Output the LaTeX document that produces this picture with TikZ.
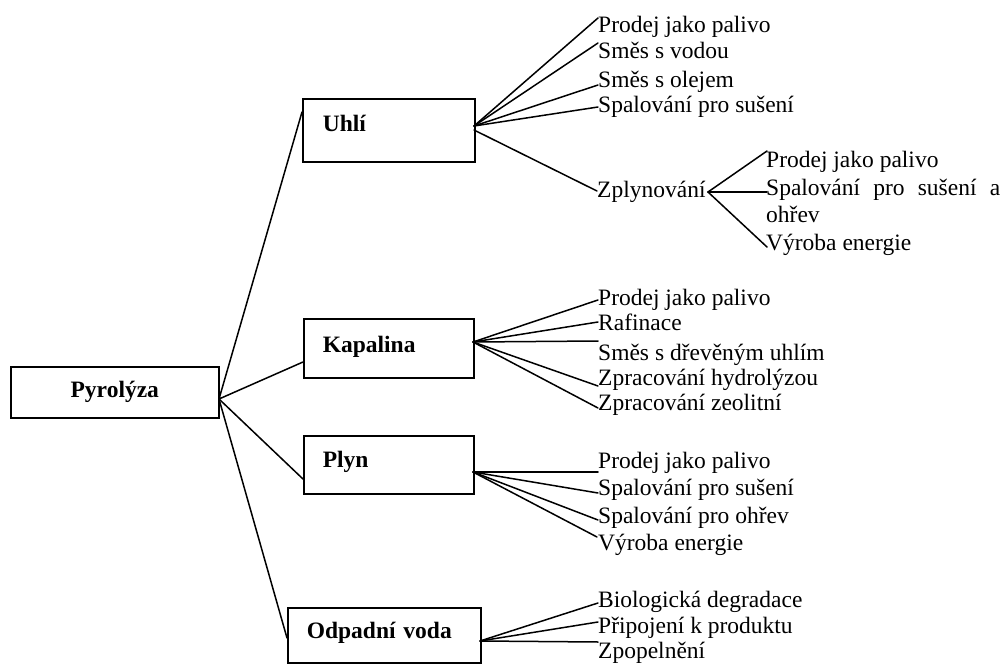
\documentclass[tikz,border=0pt]{standalone}
\usepackage{fontspec}
\setmainfont{Liberation Serif}
\begin{document}
\begin{tikzpicture}[x=1pt,y=-1pt,
  every node/.style={font=\fontsize{23.5}{27}\selectfont, inner sep=0pt},
  box/.style={draw, line width=1.6pt, rectangle, anchor=north west, inner ysep=0pt,
    font=\fontsize{23.5}{27}\selectfont\bfseries},
  leaf/.style={anchor=base west},
  conn/.style={line width=1.5pt, line join=round, line cap=round}]
\useasboundingbox (0,0) rectangle (1005,664);

% boxes
\node[box, align=center, inner xsep=10pt, text width=188pt, text height=31pt, text depth=20pt] (pyr) at (10,366) {Pyrolýza};
\node[box, align=left, inner xsep=20pt, text width=132pt, text height=33pt, text depth=30pt] (uhli) at (302,98) {Uhlí};
\node[box, align=left, inner xsep=19pt, text width=132pt, text height=34pt, text depth=25pt] (kap) at (303,318) {Kapalina};
\node[box, align=left, inner xsep=19pt, text width=132pt, text height=32pt, text depth=26pt] (plyn) at (303,435) {Plyn};
\node[box, align=left, inner xsep=19pt, text width=155pt, text height=31pt, text depth=24pt] (odp) at (287,607) {Odpadní voda};

% leaves: Uhli
\node[leaf] (u1) at (598,32) {Prodej jako palivo};
\node[leaf] (u2) at (598,58) {Směs s vodou};
\node[leaf] (u3) at (598,87) {Směs s olejem};
\node[leaf] (u4) at (598,112) {Spalování pro sušení};
\node[leaf] (u5) at (597,197) {Zplynování};
% leaves: Zplynovani
\node[leaf] (z1) at (766,167) {Prodej jako palivo};
\node[leaf] (z2) at (766,195) {\makebox[234pt][s]{Spalování pro sušení a}};
\node[leaf] (z2b) at (766,222) {ohřev};
\node[leaf] (z3) at (766,250) {Výroba energie};
% leaves: Kapalina
\node[leaf] (k1) at (598,305) {Prodej jako palivo};
\node[leaf] (k2) at (598,330) {Rafinace};
\node[leaf] (k3) at (598,360) {Směs s dřevěným uhlím};
\node[leaf] (k4) at (598,385) {Zpracování hydrolýzou};
\node[leaf] (k5) at (598,410) {Zpracování zeolitní};
% leaves: Plyn
\node[leaf] (p1) at (598,468) {Prodej jako palivo};
\node[leaf] (p2) at (598,495) {Spalování pro sušení};
\node[leaf] (p3) at (598,523) {Spalování pro ohřev};
\node[leaf] (p4) at (598,550) {Výroba energie};
% leaves: Odpadni voda
\node[leaf] (o1) at (598,607) {Biologická degradace};
\node[leaf] (o2) at (598,633) {Připojení k produktu};
\node[leaf] (o3) at (598,658) {Zpopelnění};

% junction and end coordinates
\coordinate (pj) at (219,399);
\coordinate (uin) at (302,112);
\coordinate (kin) at (303,362);
\coordinate (pin) at (303,479);
\coordinate (oin) at (287,638);

\coordinate (uj) at (474,126);
\coordinate (uj2) at (474,130);
\coordinate (u1e) at (598,18);
\coordinate (u2e) at (598,43);
\coordinate (u3e) at (598,85);
\coordinate (u4e) at (598,107);
\coordinate (u5e) at (597,191);

\coordinate (zj) at (708,192);
\coordinate (z1e) at (767,151);
\coordinate (z2e) at (767,192);
\coordinate (z3e) at (767,247);

\coordinate (kj) at (473,342);
\coordinate (k1e) at (598,300);
\coordinate (k2e) at (598,322);
\coordinate (k3e) at (598,341);
\coordinate (k4e) at (598,386);
\coordinate (k5e) at (598,408);

\coordinate (plj) at (473,472);
\coordinate (p1e) at (598,472);
\coordinate (p2e) at (598,493);
\coordinate (p3e) at (598,520);
\coordinate (p4e) at (597,537);

\coordinate (oj) at (480,641);
\coordinate (o1e) at (598,603);
\coordinate (o2e) at (598,622);
\coordinate (o3e) at (598,642);

% connectors
\draw[conn] (uin) -- (pj) -- (kin);
\draw[conn] (pj) -- (pin);
\draw[conn] (pj) -- (oin);

\draw[conn] (uj) -- (u1e);
\draw[conn] (uj) -- (u2e);
\draw[conn] (uj) -- (u3e);
\draw[conn] (uj) -- (u4e);
\draw[conn] (uj2) -- (u5e);

\draw[conn] (zj) -- (z1e);
\draw[conn] (zj) -- (z2e);
\draw[conn] (zj) -- (z3e);

\draw[conn] (kj) -- (k1e);
\draw[conn] (kj) -- (k2e);
\draw[conn] (kj) -- (k3e);
\draw[conn] (kj) -- (k4e);
\draw[conn] (kj) -- (k5e);

\draw[conn] (plj) -- (p1e);
\draw[conn] (plj) -- (p2e);
\draw[conn] (plj) -- (p3e);
\draw[conn] (plj) -- (p4e);

\draw[conn] (oj) -- (o1e);
\draw[conn] (oj) -- (o2e);
\draw[conn] (oj) -- (o3e);
\end{tikzpicture}
\end{document}
